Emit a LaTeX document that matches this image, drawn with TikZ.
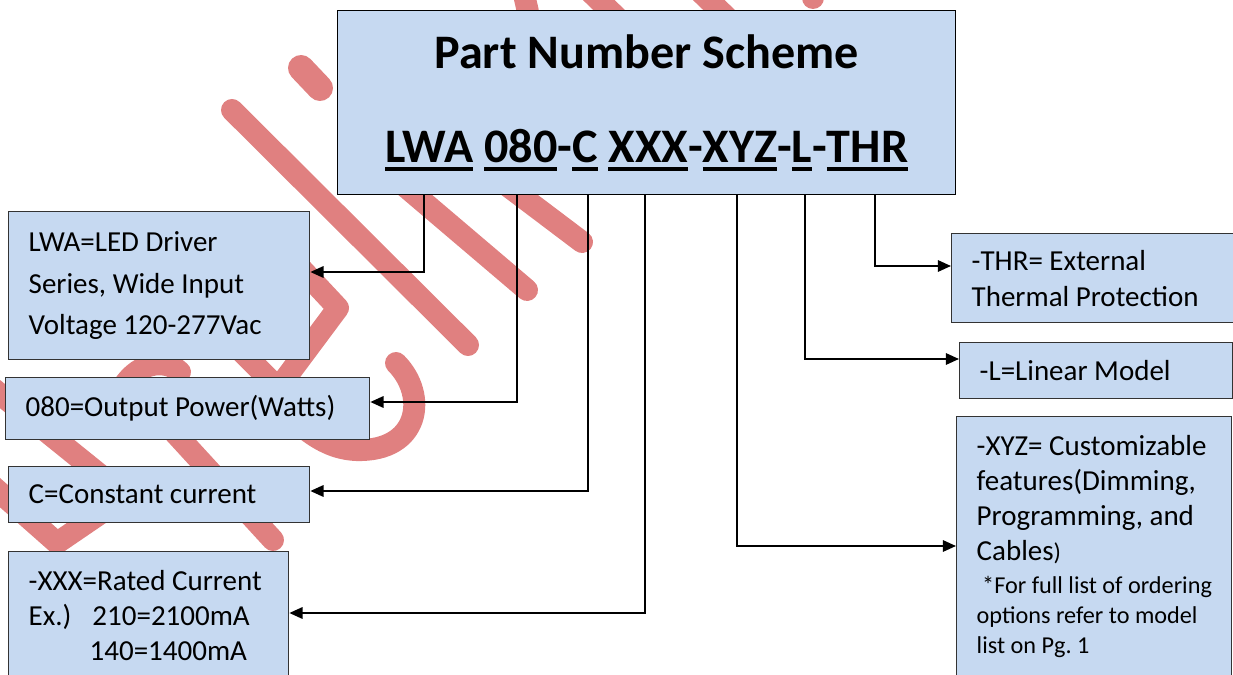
\documentclass[tikz,border=0pt]{standalone}
\usepackage{fontspec}
\setmainfont{Carlito}
\usetikzlibrary{arrows.meta, calc}
\definecolor{boxblue}{HTML}{C6D9F1}
\definecolor{wmred}{HTML}{E08080}
% thick underline for the part number segments
\newcommand{\pnul}[1]{\setbox0\hbox{#1}\rlap{\rule[-4.6pt]{\wd0}{2.4pt}}\box0\relax}

\begin{document}
\begin{tikzpicture}[x=0.02cm, y=-0.02cm, >={Triangle[length=7.5pt, width=6.5pt]},
    dbox/.style={rectangle, draw=black!80, line width=0.8pt, fill=boxblue, anchor=north west,
      align=flush left, inner xsep=0pt, execute at begin node={\leftskip=0.4cm\parindent=0pt},
      font=\fontsize{16.5}{20}\selectfont},
    topbox/.style={dbox, text height=13pt, text depth=5cm, inner ysep=9pt},
    hbox/.style={rectangle, draw=black, line width=0.8pt, fill=boxblue, anchor=north west,
      align=center, font=\fontsize{27.4}{54}\selectfont\bfseries},
    conn/.style={->, line width=1.1pt},
    wmstroke/.style={wmred, line width=0.44cm, line cap=round, line join=round},
  ]
    \useasboundingbox (0,0) rectangle (1233,675);

    % watermark strokes (behind the boxes)
    \draw[wmstroke] (232,110) -- (468,345);
    \draw[wmstroke, line width=0.52cm] (301,68) -- (320,88);
    \draw[wmstroke] (380,165) -- (527,290);
    \draw[wmstroke] (480,165) -- (582,242);
    \draw[wmstroke] (295,262) -- (338,308) -- (262,410);
    \draw[wmstroke] (200,310) -- (290,400);
    \draw[wmstroke] (120,392) .. controls (135,362) and (165,358) .. (180,372);
    \draw[wmstroke] (-15,382) -- (125,495);
    \draw[wmstroke] (140,395) -- (273,540);
    \draw[wmstroke] (-20,475) -- (57,543) -- (120,500);
    \draw[wmstroke] (396,363) .. controls (428,395) and (420,452) .. (356,450)
      .. controls (335,449) and (318,440) .. (300,425);
    \draw[wmstroke] (523,-10) -- (528,12);
    \draw[wmstroke] (578,-20) -- (635,35);
    \draw[wmstroke] (688,-20) -- (745,35);
    \draw[wmstroke] (813,-30) -- (813,-2);

    \node[hbox, minimum width=12.36cm, minimum height=3.68cm] (head) at (337,10)
      {Part Number Scheme\\
       \pnul{LWA} \pnul{080}-\pnul{C} \pnul{XXX}-\pnul{XYZ}-\pnul{L}-\pnul{THR}};

    \node[dbox, text width=6.02cm, minimum height=2.96cm, font=\fontsize{16.5}{23.8}\selectfont] (lwa) at (8,211)
      {LWA=LED Driver\\ Series, Wide Input\\ Voltage 120-277Vac};
    \node[dbox, text width=7.28cm, minimum height=1.24cm] (pow) at (5,377) {080=Output Power(Watts)};
    \node[dbox, text width=6.02cm, minimum height=1.12cm] (cc) at (8,466) {C=Constant current};
    \node[topbox, text width=5.6cm] (cur) at (8,551)
      {-XXX=Rated Current\\ Ex.)\hspace{0.42cm}210=2100mA\\ \hspace*{1.22cm}140=1400mA};

    \node[dbox, text width=6.0cm, minimum height=1.78cm, font=\fontsize{16.5}{20.4}\selectfont] (thr) at (951,233)
      {-THR= External\\ Thermal Protection};
    \node[dbox, text width=5.46cm, minimum height=1.12cm] (lin) at (959,342) {-L=Linear Model};
    \node[topbox, text width=5.5cm] (xyz) at (956,416)
      {-XYZ= Customizable\\ features(Dimming,\\ Programming, and\\ Cables{\fontsize{13.8}{16}\selectfont)}\par
       \vspace{2pt}\fontsize{13.8}{16.9}\selectfont
       \ *For full list of ordering\\ options refer to model\\ list on Pg.\ 1\par};

    \foreach \dx/\b/\a/\dy in {87/lwa/north east/61, 180/pow/north east/25, 251/cc/north east/25,
        308/cur/north east/62, 400/xyz/north west/130, 468/lin/north west/17, 538/thr/north west/33} {
      \draw[conn] ($(head.south west)+(\dx,0)$) |- ($(\b.\a)+(0,\dy)$);
    }
  \end{tikzpicture}
\end{document}
